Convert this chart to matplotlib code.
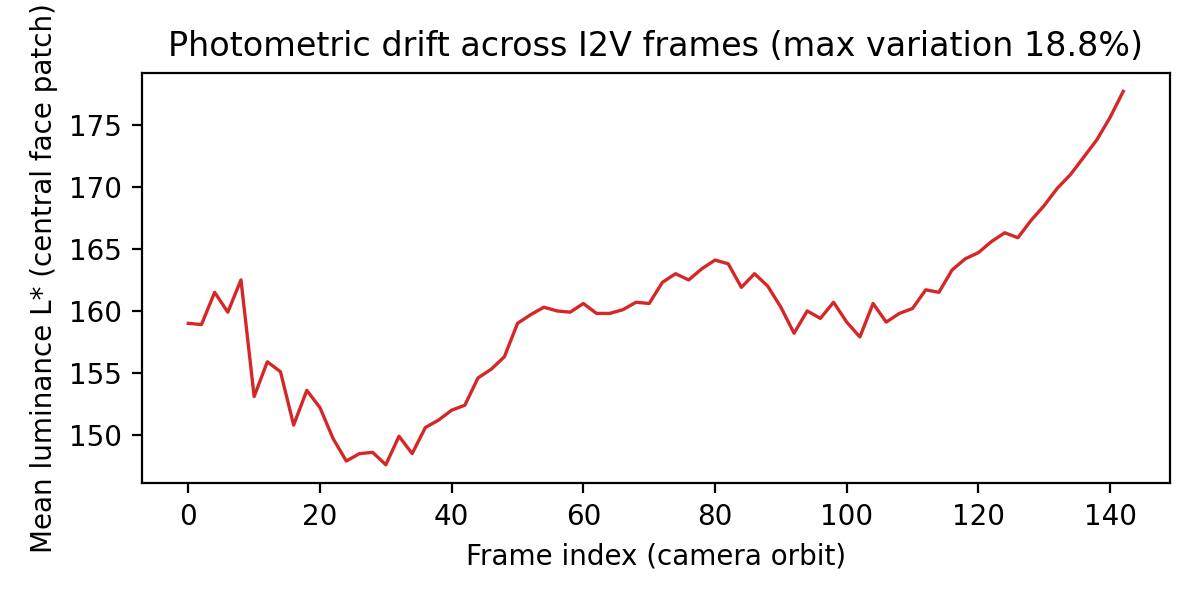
import matplotlib.pyplot as plt

# frame indices (every 2nd frame of the orbit)
frames = list(range(0, 144, 2))

# mean L* of the central face patch
luminance = [
    159.0, 158.9, 161.5, 159.9, 162.5, 153.1, 155.9, 155.1, 150.8, 153.6,
    152.2, 149.7, 147.9, 148.5, 148.6, 147.6, 149.9, 148.5, 150.6, 151.2,
    152.0, 152.4, 154.6, 155.3, 156.3, 159.0, 159.7, 160.3, 160.0, 159.9,
    160.6, 159.8, 159.8, 160.1, 160.7, 160.6, 162.3, 163.0, 162.5, 163.4,
    164.1, 163.8, 161.9, 163.0, 162.0, 160.3, 158.2, 160.0, 159.4, 160.7,
    159.1, 157.9, 160.6, 159.1, 159.8, 160.2, 161.7, 161.5, 163.3, 164.2,
    164.7, 165.6, 166.3, 165.9, 167.3, 168.5, 169.9, 171.0, 172.4, 173.8,
    175.6, 177.7,
]

fig, ax = plt.subplots(figsize=(6, 3), dpi=200)
ax.plot(frames, luminance, color='tab:red', linewidth=1.2)
ax.set_xlabel('Frame index (camera orbit)')
ax.set_ylabel('Mean luminance L* (central face patch)')
ax.set_title('Photometric drift across I2V frames (max variation 18.8%)')

plt.tight_layout()
plt.savefig('out.png')
